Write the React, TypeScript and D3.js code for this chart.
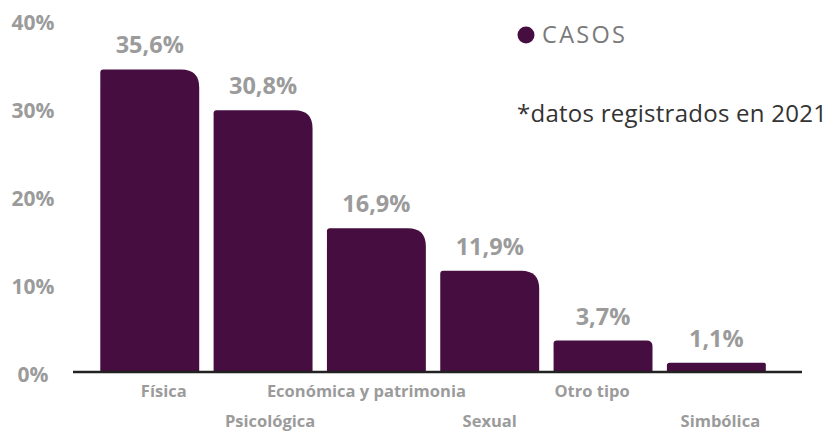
import React from 'react';
import * as d3 from 'd3';

const categories = ['Física', 'Psicológica', 'Económica y patrimonia', 'Sexual', 'Otro tipo', 'Simbólica'];
const values = [35.6, 30.8, 16.9, 11.9, 3.7, 1.1];
const valueLabels = ['35,6%', '30,8%', '16,9%', '11,9%', '3,7%', '1,1%'];
const yTicks = [0, 10, 20, 30, 40];
const seriesName = 'CASOS';
const note = '*datos registrados en 2021';

const W = 830;
const H = 432;
const barColor = '#460d40';
const grey = '#9b9b9b';
const font = "'Open Sans', sans-serif";
// the category labels are not quite centred under their bars in the original
const labelShift = [14, 7, -10, 0, -11, 4];

// top corners rounded, the right one much more
const barPath = (x: number, y: number, w: number, h: number) => {
  const rr = Math.min(18, h * 0.19);
  const rl = Math.min(3, h * 0.3);
  const p = d3.path();
  p.moveTo(x, y + h);
  p.lineTo(x, y + rl);
  p.quadraticCurveTo(x, y, x + rl, y);
  p.lineTo(x + w - rr, y);
  p.quadraticCurveTo(x + w, y, x + w, y + rr);
  p.lineTo(x + w, y + h);
  p.closePath();
  return p.toString();
};

const App = () => {
  const x = d3.scaleBand<string>()
    .domain(categories)
    .range([73, 802])
    .paddingInner(0.127)
    .paddingOuter(0.28)
    .align(0.43);
  const y = d3.scaleLinear().domain([0, 40]).range([372, 32]);
  // tick labels sit on a slightly different grid in the original
  const yLab = d3.scaleLinear().domain([0, 40]).range([375, 22.7]);

  return (
    <svg width={W} height={H} style={{ position: 'absolute', left: 0, top: 0 }} fontFamily={font}>
      <rect width={W} height={H} fill="#fff" />
      <g fontSize="21" fontWeight="700" fill={grey} textAnchor="middle">
        {yTicks.map(t => (
          <text key={t} x={33} y={yLab(t)} dy="0.35em">{t}%</text>
        ))}
      </g>
      {categories.map((c, i) => {
        const bx = x(c)!;
        const bw = x.bandwidth();
        const top = y(values[i]);
        const h = Math.max(y(0) - top, 7);
        return (
          <g key={c}>
            <path d={barPath(bx, y(0) - h, bw, h)} fill={barColor} />
            <text x={bx + bw / 2} y={y(0) - h - 16} textAnchor="middle" fontSize="23.5" fontWeight="700" fill={grey}>
              {valueLabels[i]}
            </text>
            <text x={bx + bw / 2 + labelShift[i]} y={i % 2 === 0 ? 397 : 426.5} textAnchor="middle" fontSize="16.5" fontWeight="700" fill={grey}>
              {c}
            </text>
          </g>
        );
      })}
      <line x1={73} x2={802} y1={y(0)} y2={y(0)} stroke="#222" strokeWidth={2.5} />
      <circle cx={526} cy={35} r={8.5} fill={barColor} />
      <text x={542} y={43} fontSize="23.5" fill="#7a7a7a" textLength={83} lengthAdjust="spacing">{seriesName}</text>
      <text x={517} y={122} fontSize="24" fill="#333" textLength={310} lengthAdjust="spacing">{note}</text>
    </svg>
  );
};

export default App;
